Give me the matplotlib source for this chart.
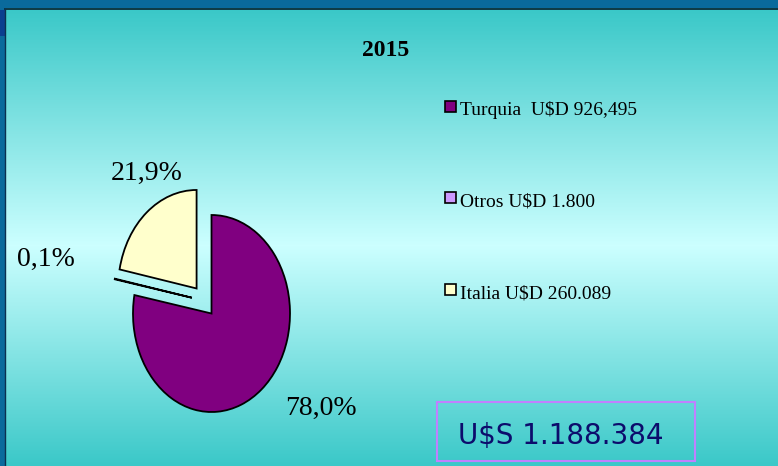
import numpy as np
import matplotlib
matplotlib.use("Agg")
import matplotlib.pyplot as plt
from matplotlib.patches import Rectangle

# ---- data ----
title = "2015"
categories = ["Turquia", "Otros", "Italia"]
shares = [78.0, 0.1, 21.9]
share_labels = ["78,0%", "0,1%", "21,9%"]
legend_labels = ["Turquia  U$D 926,495", "Otros U$D 1.800", "Italia U$D 260.089"]
total_label = "U$S 1.188.384"
colors = ["#800080", "#CC99FF", "#FFFFCC"]

W, H = 778, 466
fig = plt.figure(figsize=(W / 100, H / 100), dpi=100)

# background axes in pixel coordinates (y downwards)
bg = fig.add_axes([0, 0, 1, 1])
bg.set_xlim(0, W)
bg.set_ylim(H, 0)
bg.axis("off")

ys = np.arange(H)
mid_y, top_y = 245.0, 9.0
t = np.where(ys < mid_y, (mid_y - ys) / (mid_y - top_y), (ys - mid_y) / (H - mid_y))
t = np.clip(t, 0, 1)[:, None]
edge = np.array([58, 200, 200]) / 255.0
mid = np.array([204, 255, 255]) / 255.0
grad = mid + (edge - mid) * t
img = np.repeat(grad[:, None, :], 2, axis=1)
bg.imshow(img, extent=(0, W, H, 0), aspect="auto", zorder=0)

frame = "#0A6A9C"
bg.add_patch(Rectangle((0, 0), W, 8, color=frame, zorder=1, lw=0))
bg.add_patch(Rectangle((0, 0), 5.5, H, color=frame, zorder=1, lw=0))
bg.add_patch(Rectangle((0, 10), 5.5, 26, color="#0A3F8F", zorder=2, lw=0))
bg.plot([5.5, W], [8.5, 8.5], color="#06202E", lw=1.2, zorder=3)
bg.plot([5.5, 5.5], [8.5, H], color="#0A3050", lw=1.0, zorder=3)

# title
bg.text(386, 56.5, title, ha="center", va="baseline", fontsize=17,
        fontweight="bold", family="Liberation Serif", color="black", zorder=5)

# pie axes: center (211.5, 313.5) px, rx 78.5, ry 98.5
cx, cy, rx, ry = 211.5, 313.5, 78.5, 98.5
lim = 1.5
pw, ph = 2 * lim * rx, 2 * lim * ry
pax = fig.add_axes([(cx - lim * rx) / W, (H - cy - lim * ry) / H, pw / W, ph / H])
wedges, _ = pax.pie(shares, colors=colors, startangle=90, counterclock=False,
                    wedgeprops=dict(edgecolor="black", linewidth=1.3))
offsets = [(0, 0), (-0.25, 0.16), (-0.19, 0.254)]
for w, off in zip(wedges, offsets):
    w.set_center(off)
pax.set_aspect("auto")
pax.set_xlim(-lim, lim)
pax.set_ylim(-lim, lim)
pax.axis("off")
pax.patch.set_alpha(0)

# percentage labels
label_pos = [(321, 415), (46, 265.5), (147, 180)]
for (x, y), lab in zip(label_pos, share_labels):
    bg.text(x, y, lab, ha="center", va="baseline", fontsize=20,
            family="Liberation Serif", color="black", zorder=5)

# legend
leg_base = [115, 206, 298]
for yb, lab, col in zip(leg_base, legend_labels, colors):
    bg.add_patch(Rectangle((445.5, yb - 14), 11, 11, facecolor=col,
                           edgecolor="black", lw=1.2, zorder=5))
    bg.text(460, yb, lab, ha="left", va="baseline", fontsize=14,
            family="Liberation Serif", color="black", zorder=5, parse_math=False)

# total box
bg.add_patch(Rectangle((437.5, 401.5), 258, 59, facecolor="none",
                       edgecolor="#C080FF", lw=1.5, zorder=5))
bg.text(458, 444, total_label, ha="left", va="baseline", fontsize=20,
        family="DejaVu Sans", color="#0C0C6C", zorder=6, parse_math=False)

fig.savefig("out.png", dpi=100)
